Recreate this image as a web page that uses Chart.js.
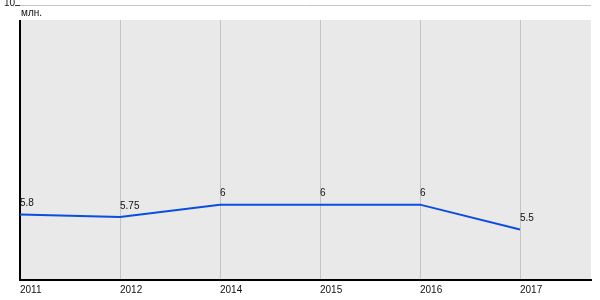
<!DOCTYPE html>
<html>
<head>
<meta charset="utf-8">
<script src="https://cdn.jsdelivr.net/npm/chart.js@4"></script>
<style>
  body { margin: 0; background: #fff; }
  #wrap { width: 600px; height: 300px; position: relative; }
</style>
</head>
<body>
<div id="wrap"><canvas id="chart"></canvas></div>
<script>
const years = ['2011', '2012', '2014', '2015', '2016', '2017'];
const values = [5.8, 5.75, 6, 6, 6, 5.5];
const unitLabel = 'млн.';
const yTicks = [10];

const font = { family: 'Liberation Sans, Arial, sans-serif', size: 10 };
const plotTop = 20;

// gray plot background, category grid, left axis line, unit label, y tick text and point labels
const bgPlugin = {
    id: 'bg',
    beforeDraw(chart) {
        const { ctx, chartArea: a } = chart;
        const xs = chart.scales.x;
        ctx.save();
        ctx.fillStyle = '#e9e9e9';
        ctx.fillRect(a.left, plotTop, a.right - a.left, a.bottom - plotTop);
        ctx.fillStyle = '#c4c4c4';
        years.forEach((y, i) => {
            const px = Math.round(xs.getPixelForValue(i));
            if (i > 0) ctx.fillRect(px, plotTop, 1, a.bottom - plotTop);
        });
        ctx.fillStyle = '#000';
        ctx.fillRect(a.left - 1, plotTop, 2, a.bottom - plotTop);
        ctx.font = '10px ' + font.family;
        ctx.fillStyle = '#111';
        ctx.textBaseline = 'top';
        ctx.fillText(unitLabel, a.left + 1, 8);
        const ys = chart.scales.y;
        ctx.textAlign = 'right';
        ctx.textBaseline = 'alphabetic';
        yTicks.forEach(v => ctx.fillText(String(v), a.left - 5, ys.getPixelForValue(v) + 1));
        ctx.restore();
    },
    afterDatasetsDraw(chart) {
        const { ctx } = chart;
        const meta = chart.getDatasetMeta(0);
        ctx.save();
        ctx.font = '10px ' + font.family;
        ctx.fillStyle = '#111';
        ctx.textAlign = 'left';
        ctx.textBaseline = 'bottom';
        meta.data.forEach((pt, i) => {
            ctx.fillText(String(values[i]), pt.x, pt.y - 6);
        });
        ctx.restore();
    }
};

new Chart(document.getElementById('chart'), {
    type: 'line',
    data: {
        datasets: [{
            data: values.map((v, i) => ({ x: i, y: v })),
            borderColor: '#0a4de0',
            borderWidth: 2,
            pointRadius: 0,
            tension: 0
        }]
    },
    options: {
        responsive: true,
        maintainAspectRatio: false,
        animation: false,
        layout: { padding: { top: 5, right: 9, left: 0, bottom: 0 } },
        plugins: { legend: { display: false }, tooltip: { enabled: false } },
        scales: {
            x: {
                type: 'linear',
                min: 0,
                max: 5.71,
                afterBuildTicks(scale) {
                    scale.ticks = years.map((y, i) => ({ value: i }));
                },
                afterFit(scale) { scale.height = 20; },
                ticks: {
                    align: 'start',
                    maxRotation: 0,
                    autoSkip: false,
                    padding: 4,
                    color: '#111',
                    font: font,
                    callback: (v) => years[v]
                },
                grid: { display: false, drawTicks: false },
                border: { display: true, color: '#000', width: 2 }
            },
            y: {
                min: 4.49,
                max: 10,
                afterBuildTicks(scale) {
                    scale.ticks = yTicks.map(v => ({ value: v }));
                },
                afterFit(scale) { scale.width = 20; },
                ticks: { display: false },
                grid: {
                    color: '#c4c4c4',
                    tickColor: '#333',
                    tickLength: 5,
                    lineWidth: 1
                },
                border: { display: false }
            }
        }
    },
    plugins: [bgPlugin]
});
</script>
</body>
</html>
